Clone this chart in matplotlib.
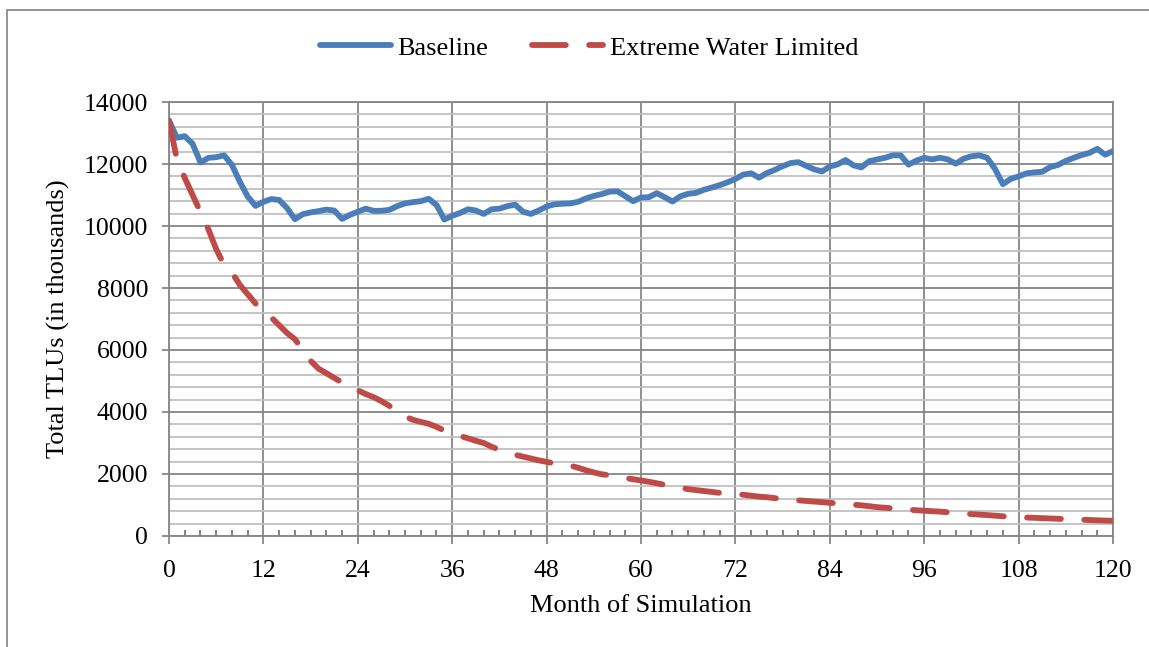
import matplotlib
matplotlib.use("Agg")
import matplotlib.pyplot as plt
from matplotlib.patches import Rectangle
from matplotlib.ticker import MultipleLocator
import numpy as np

# monthly totals, months 0..120
months = np.arange(0, 121)

baseline = [
    13400, 12850, 12900, 12650, 12050, 12200, 12220, 12280, 11970, 11430,
    10950, 10650, 10780, 10870, 10840, 10580, 10220, 10380, 10440, 10480,
    10530, 10500, 10230, 10360, 10460, 10560, 10490, 10490, 10520, 10640,
    10730, 10770, 10800, 10880, 10680, 10210, 10330, 10420, 10540, 10500,
    10390, 10540, 10560, 10640, 10690, 10460, 10390, 10500, 10630, 10700,
    10720, 10730, 10780, 10890, 10970, 11030, 11110, 11120, 10960, 10800,
    10920, 10930, 11060, 10930, 10790, 10960, 11040, 11070, 11170, 11240,
    11320, 11410, 11520, 11660, 11700, 11560, 11710, 11810, 11930, 12030,
    12060, 11940, 11830, 11760, 11920, 11990, 12130, 11960, 11890, 12090,
    12150, 12200, 12280, 12280, 11980, 12110, 12200, 12150, 12200, 12150,
    12010, 12170, 12250, 12280, 12200, 11840, 11350, 11520, 11600, 11700,
    11730, 11750, 11900, 11970, 12100, 12200, 12290, 12360, 12490, 12300,
    12420,
]

extreme_water = [
    13400, 12150, 11550, 11000, 10450, 9900, 9250, 8750, 8500, 8100,
    7800, 7500, 7250, 7050, 6800, 6550, 6350, 6000, 5650, 5400,
    5250, 5100, 4950, 4800, 4700, 4580, 4480, 4350, 4200, 4000,
    3850, 3750, 3680, 3620, 3520, 3400, 3330, 3230, 3150, 3070,
    3000, 2880, 2780, 2690, 2620, 2560, 2500, 2440, 2390, 2340,
    2300, 2270, 2200, 2120, 2050, 1990, 1960, 1920, 1870, 1830,
    1790, 1750, 1700, 1650, 1610, 1560, 1510, 1480, 1450, 1420,
    1390, 1370, 1350, 1330, 1300, 1270, 1250, 1220, 1190, 1170,
    1150, 1130, 1110, 1090, 1070, 1050, 1030, 1010, 990, 960,
    930, 910, 890, 870, 850, 830, 815, 800, 785, 765,
    745, 725, 705, 690, 675, 655, 635, 620, 605, 595,
    585, 575, 565, 555, 545, 535, 525, 515, 505, 497,
    490,
]

plt.rcParams["font.family"] = ["Liberation Serif", "DejaVu Serif"]

fig = plt.figure(figsize=(11.49, 6.47), dpi=100)
ax = fig.add_axes([0.1471, 0.1716, 0.9687 - 0.1471, 0.8423 - 0.1716])

grid_dark = "#868686"
grid_light = "#c0c0c0"

ax.plot(months, baseline, color="#4a7ebb", lw=4.2, solid_capstyle="round",
        solid_joinstyle="round", label="Baseline", zorder=3)
ax.plot(months, extreme_water, color="#be4b48", lw=4.2, dashes=(5.8, 4.0),
        dash_capstyle="round", label="Extreme Water Limited", zorder=3)

ax.set_xlim(0, 120)
ax.set_ylim(0, 14000)
ax.xaxis.set_major_locator(MultipleLocator(12))
ax.xaxis.set_minor_locator(MultipleLocator(2))
ax.yaxis.set_major_locator(MultipleLocator(2000))
ax.yaxis.set_minor_locator(MultipleLocator(400))

ax.grid(which="major", color=grid_dark, lw=1.3, zorder=1)
ax.grid(which="minor", axis="y", color=grid_light, lw=1.3, zorder=0)
ax.set_axisbelow(True)

for s in ax.spines.values():
    s.set_color(grid_dark)
    s.set_linewidth(1.3)

ax.tick_params(axis="x", which="major", direction="out", length=6,
               width=1.3, color=grid_dark, pad=11, labelsize=18.5)
ax.tick_params(axis="x", which="minor", direction="in", length=4.5,
               width=1.3, color="#7a7a7a")
ax.tick_params(axis="y", which="major", direction="out", length=5,
               width=1.3, color=grid_dark, pad=10, labelsize=18.5)
ax.tick_params(axis="y", which="minor", length=0)

ax.set_xlabel("Month of Simulation", fontsize=19, labelpad=10)
ax.set_ylabel("Total TLUs (in thousands)", fontsize=19, labelpad=10)

fig.legend(loc="center", bbox_to_anchor=(589 / 1149, 1 - 48 / 647), ncol=2,
           frameon=False, fontsize=19, handlelength=2.7, handletextpad=0.25,
           columnspacing=1.65)

# outer chart border
fig.patches.append(Rectangle((7 / 1149, -0.1), 1.2, 1 - 10 / 647 + 0.1,
                             transform=fig.transFigure, fill=False,
                             edgecolor="#8c8c8c", lw=1.3))

fig.savefig("out.png", dpi=100)
